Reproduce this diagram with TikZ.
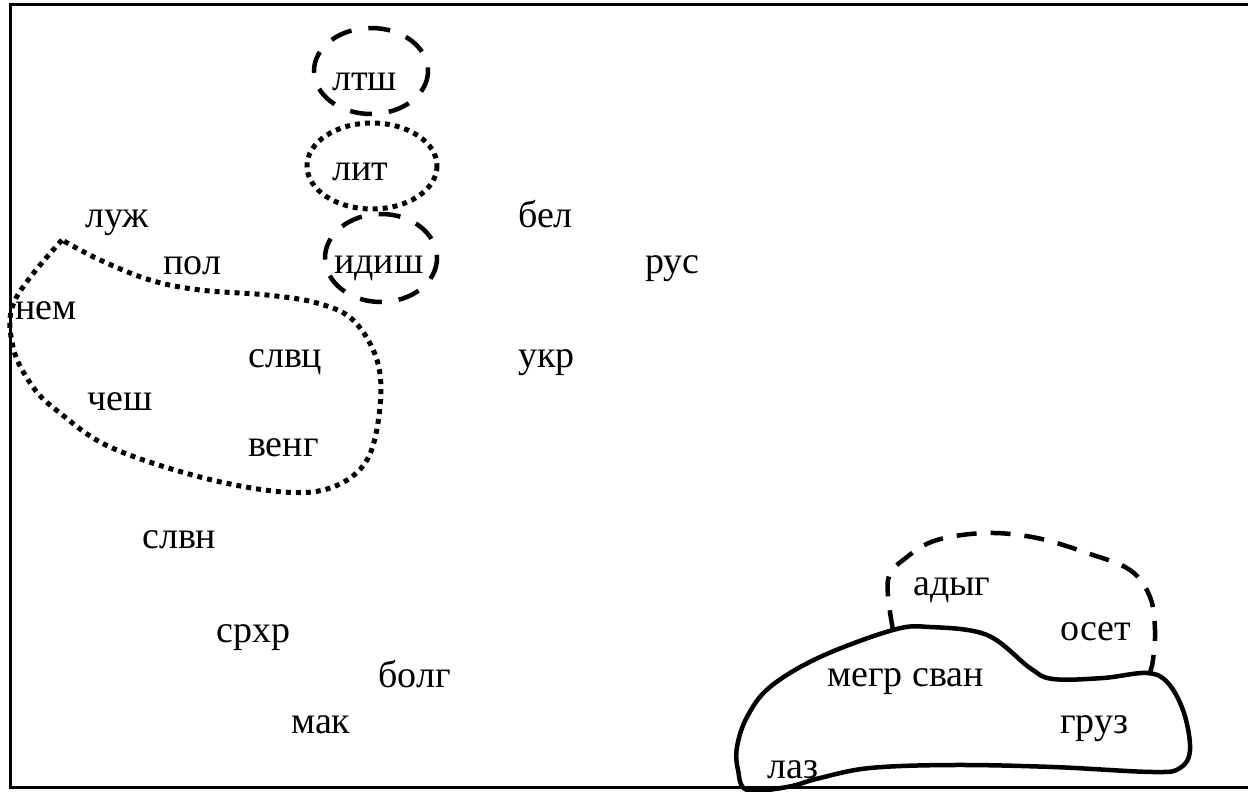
\documentclass[tikz,border=0pt]{standalone}
\usepackage{fontspec}
\setmainfont{Liberation Serif}
\usepackage{tikz}

\tikzset{
  lang/.style={anchor=base west, inner sep=0pt, font=\rmfamily\fontsize{38}{40}\selectfont},
  dashring/.style={line width=4.5pt, dash pattern=on 22pt off 17pt},
  dotring/.style={line width=5pt, dash pattern=on 5pt off 5pt},
}

\begin{document}
\begin{tikzpicture}[x=1pt, y=-1pt]
        \useasboundingbox (0,0) rectangle (1248,792);
        \draw [line width=3pt] (1248,5) -- (10,5) -- (10,787) -- (1248,787);
        % languages
        \node (ltsh) [lang] at (332,90) {лтш};
        \node (lit) [lang] at (332,180) {лит};
        \node (luzh) [lang] at (85,227) {луж};
        \node (pol) [lang] at (163,274) {пол};
        \node (idish) [lang] at (334,273) {идиш};
        \node (bel) [lang] at (518,227) {бел};
        \node (rus) [lang] at (645,273) {рус};
        \node (nem) [lang] at (15,319) {нем};
        \node (slvc) [lang] at (248,367) {слвц};
        \node (ukr) [lang] at (518,367) {укр};
        \node (chesh) [lang] at (87,410) {чеш};
        \node (veng) [lang] at (248,456) {венг};
        \node (slvn) [lang] at (142,548) {слвн};
        \node (srhr) [lang] at (216,642) {срхр};
        \node (bolg) [lang] at (378,687) {болг};
        \node (mak) [lang] at (291,733) {мак};
        \node (adyg) [lang] at (913,595) {адыг};
        \node (oset) [lang] at (1060,640) {осет};
        \node (megr) [lang] at (827,686) {мегр сван};
        \node (gruz) [lang] at (1060,733) {груз};
        \node (laz) [lang] at (767,778) {лаз};
        % groups
        \draw [dashring] (371,71) ellipse [x radius=57, y radius=43];
        \draw [dotring] (372,166) ellipse [x radius=65, y radius=43];
        \draw [dashring] (381,258) ellipse [x radius=56, y radius=44];
        \draw [dotring] plot [smooth, tension=0.6] coordinates {(62,240) (15,300) (13,347) (33,387) (60,413)
                (110,447) (200,477) (283,492) (333,487) (367,460) (380,407) (377,360) (353,320)
                (317,303) (267,295) (200,290) (150,280) (100,260) (62,240)};
        \draw [line width=4.5pt] plot [smooth cycle, tension=0.6] coordinates {(893,630) (930,627) (987,635)
                (1030,668) (1053,679) (1103,678) (1147,673) (1168,683) (1184,713) (1190,750)
                (1180,768) (1153,772) (1053,767) (953,765) (870,768) (820,778) (787,787)
                (747,790) (738,770) (737,747) (747,717) (770,687) (820,657)};
        \draw [dashring, dash pattern=on 20pt off 14pt] plot [smooth, tension=0.6] coordinates {(893,630)
                (888,580) (907,557) (937,540) (987,533) (1037,538) (1087,553) (1130,570)
                (1150,597) (1155,630) (1153,660) (1150,672)};
\end{tikzpicture}
\end{document}
